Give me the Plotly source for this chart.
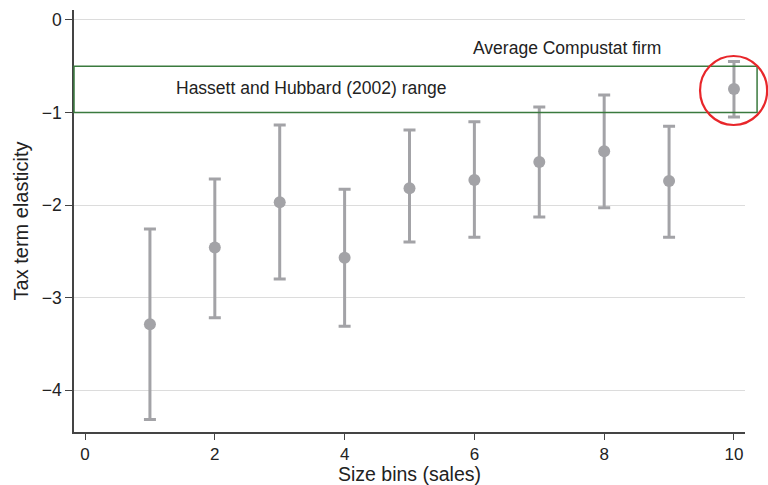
import plotly.graph_objects as go

bins = [1, 2, 3, 4, 5, 6, 7, 8, 9, 10]
elasticity = [-3.29, -2.46, -1.97, -2.57, -1.82, -1.73, -1.535, -1.42, -1.74, -0.746]
upper = [-2.26, -1.72, -1.135, -1.83, -1.19, -1.10, -0.94, -0.81, -1.15, -0.45]
lower = [-4.32, -3.22, -2.80, -3.31, -2.40, -2.35, -2.13, -2.03, -2.35, -1.05]
range_low, range_high = -1.0, -0.5
x_ticks = [0, 2, 4, 6, 8, 10]
y_ticks = [0, -1, -2, -3, -4]
y_labels = ["0", "\u22121", "\u22122", "\u22123", "\u22124"]

err_plus = [u - e for u, e in zip(upper, elasticity)]
err_minus = [e - l for e, l in zip(elasticity, lower)]

gray = "#a3a3a7"
fig = go.Figure()
fig.add_trace(go.Scatter(
    x=bins, y=elasticity, mode="markers",
    marker=dict(color=gray, size=12),
    error_y=dict(type="data", symmetric=False, array=err_plus, arrayminus=err_minus,
                 color=gray, thickness=3, width=6),
    showlegend=False, cliponaxis=False,
))

# plot area: x pixels 74..745 (671 px), y pixels 10..432 (422 px)
fig.add_shape(type="rect", xref="paper", yref="y", x0=0, x1=1.018, y0=range_low, y1=range_high,
              line=dict(color="#3a7a3e", width=1.5), layer="above")
fig.add_shape(type="circle", xref="paper", yref="paper", x0=0.933, x1=1.033, y0=0.7275, y1=0.891,
              line=dict(color="#e8262a", width=2.2))

fig.add_annotation(x=7.42, y=-0.30, text="Average Compustat firm", showarrow=False,
                   font=dict(size=17.5, color="#222"))
fig.add_annotation(x=3.48, y=-0.735, text="Hassett and Hubbard (2002) range", showarrow=False,
                   font=dict(size=17.5, color="#222"))

fig.update_layout(
    width=768, height=485,
    margin=dict(l=74, r=23, t=10, b=53),
    plot_bgcolor="white", paper_bgcolor="white",
    font=dict(family="Liberation Sans, Arial, sans-serif", size=17, color="#222"),
    xaxis=dict(range=[-0.17, 10.17], tickvals=x_ticks, showgrid=False, zeroline=False,
               showline=True, linecolor="#444", linewidth=1.5, ticks="outside",
               ticklen=6, tickcolor="#444", tickfont=dict(size=17), automargin=False,
               title=dict(text="Size bins (sales)", font=dict(size=19.5), standoff=6)),
    yaxis=dict(range=[-4.454, 0.108], tickvals=y_ticks, ticktext=y_labels,
               showgrid=True, gridcolor="#dcdcdc", gridwidth=1.2, zeroline=False,
               showline=True, linecolor="#444", linewidth=1.5, ticks="outside",
               ticklen=7, tickcolor="#444", tickfont=dict(size=17.5), automargin=False,
               title=dict(text="Tax term elasticity", font=dict(size=20), standoff=8)),
)

fig.write_html("out.html")
